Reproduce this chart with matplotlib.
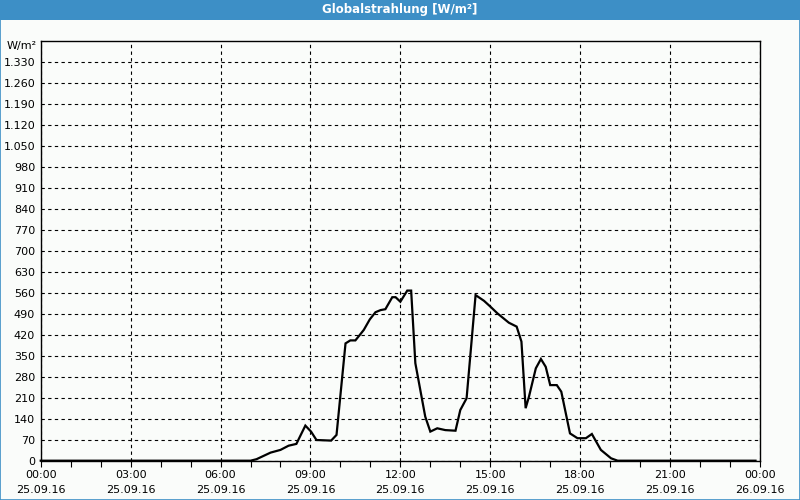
#!/usr/bin/env python3.12
"""Globalstrahlung 25.09.16 - daily irradiance curve."""

import matplotlib.pyplot as plt
from matplotlib.patches import Rectangle
from matplotlib.ticker import MultipleLocator

# time of day (hours) and irradiance (W/m²)
hours = [0.0, 7.0, 7.2, 7.67, 8.0, 8.27, 8.53, 8.83, 9.02, 9.2, 9.69, 9.87,
         10.17, 10.33, 10.5, 10.78, 10.98, 11.17, 11.34, 11.5, 11.73, 11.84,
         12.0, 12.23, 12.36, 12.5, 12.83, 13.0, 13.23, 13.5, 13.84, 14.0,
         14.21, 14.51, 14.79, 15.01, 15.24, 15.62, 15.88, 16.04, 16.18,
         16.29, 16.52, 16.69, 16.85, 17.0, 17.22, 17.37, 17.66, 17.91, 18.19,
         18.39, 18.69, 19.03, 19.25, 23.85]
watts = [0, 0, 5, 27, 36, 50, 56, 117, 97, 69, 67, 86,
         391, 401, 401, 436, 471, 495, 502, 505, 545, 545,
         530, 567, 567, 325, 147, 97, 108, 102, 100, 169,
         208, 552, 533, 513, 491, 460, 447, 397, 175,
         213, 308, 339, 313, 252, 252, 230, 91, 75, 75,
         89, 36, 8, 0, 0]

x_ticks = [0, 3, 6, 9, 12, 15, 18, 21, 24]
x_labels = ["00:00\n25.09.16", "03:00\n25.09.16", "06:00\n25.09.16",
            "09:00\n25.09.16", "12:00\n25.09.16", "15:00\n25.09.16",
            "18:00\n25.09.16", "21:00\n25.09.16", "00:00\n26.09.16"]
y_ticks = list(range(0, 1400, 70))

BG = "#fafcfa"
BAR = "#3d8fc6"


def fmt(v):
    return f"{v:,}".replace(",", ".")


def main():
    fig = plt.figure(figsize=(8, 5), dpi=100)
    fig.patch.set_facecolor(BG)

    # title bar and outer frame
    fig.add_artist(Rectangle((0, 0.96), 1, 0.04, transform=fig.transFigure,
                             facecolor=BAR, edgecolor="none"))
    fig.add_artist(Rectangle((0.0006, 0.001), 0.9988, 0.998,
                             transform=fig.transFigure, facecolor="none",
                             edgecolor=BAR, lw=1.2))
    fig.text(0.5, 0.98, "Globalstrahlung [W/m²]", color="white",
             fontsize=8.5, fontweight="bold", ha="center", va="center")

    ax = fig.add_axes([0.0509, 0.0786, 0.8991, 0.84])
    ax.set_facecolor(BG)
    ax.plot(hours, watts, color="black", lw=1.6, solid_joinstyle="miter",
            zorder=3, clip_on=False)

    ax.set_xlim(0, 24)
    ax.set_ylim(0, 1400)
    ax.set_xticks(x_ticks)
    ax.set_xticklabels(x_labels, fontsize=8, linespacing=1.6)
    ax.xaxis.set_minor_locator(MultipleLocator(1))
    ax.tick_params(axis="x", which="both", direction="out", length=4,
                   width=0.8, pad=3)
    ax.set_yticks(y_ticks)
    ax.set_yticklabels([fmt(v) for v in y_ticks], fontsize=8)
    ax.tick_params(axis="y", length=0, pad=4)

    ax.grid(True, which="major", color="black", ls=(0, (3, 3)), lw=0.8)
    for spine in ax.spines.values():
        spine.set_color("black")
        spine.set_linewidth(1.0)

    ax.text(-0.005, 0.988, "W/m²", transform=ax.transAxes, fontsize=8,
            ha="right", va="center")

    fig.savefig("out.png", facecolor=BG)


if __name__ == "__main__":
    main()
